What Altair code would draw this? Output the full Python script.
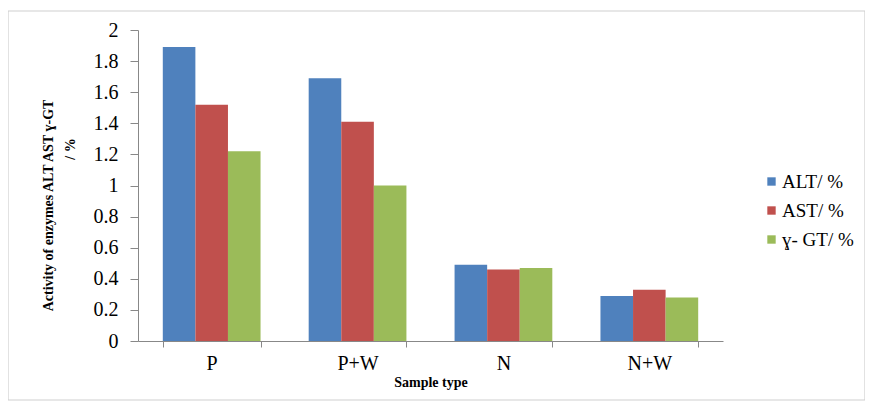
import altair as alt
import pandas as pd

categories = ["P", "P+W", "N", "N+W"]
series = ["ALT/ %", "AST/ %", "ɣ- GT/ %"]
alt_vals = [1.89, 1.69, 0.49, 0.29]
ast_vals = [1.52, 1.41, 0.46, 0.33]
ggt_vals = [1.22, 1.00, 0.47, 0.28]
colors = ["#4F81BD", "#C0504D", "#9BBB59"]
y_ticks = [0, 0.2, 0.4, 0.6, 0.8, 1, 1.2, 1.4, 1.6, 1.8, 2]

rows = []
for s, vals in zip(series, [alt_vals, ast_vals, ggt_vals]):
    for c, v in zip(categories, vals):
        rows.append({"Sample": c, "Series": s, "Value": v})
df = pd.DataFrame(rows)

SERIF = "Liberation Serif"

bars = alt.Chart(df).mark_bar().encode(
    x=alt.X("Sample:N", sort=categories,
            scale=alt.Scale(paddingInner=0.33, paddingOuter=0.17),
            axis=alt.Axis(title="Sample type", labelAngle=0, labelFont=SERIF,
                          labelFontSize=20, labelColor="black", labelPadding=6,
                          titleFont=SERIF, titleFontSize=14, titleFontWeight="bold",
                          titleColor="black", titlePadding=2,
                          tickBand="extent", tickSize=6, domainColor="#888888",
                          tickColor="#888888")),
    xOffset=alt.XOffset("Series:N", sort=series),
    y=alt.Y("Value:Q",
            scale=alt.Scale(domain=[0, 2]),
            axis=alt.Axis(values=y_ticks, labelExpr="format(datum.value, '~g')",
                          grid=False, labelFont=SERIF, labelFontSize=20,
                          labelColor="black", labelPadding=12, tickSize=8,
                          domainColor="#888888", tickColor="#888888",
                          title="Activity of enzymes ALT AST ɣ-GT",
                          titleFont=SERIF, titleFontSize=14, titleFontWeight="bold",
                          titleColor="black", titleX=-90, titleY=175,
                          titleAngle=270, titleBaseline="middle")),
    color=alt.Color("Series:N", sort=series,
                    scale=alt.Scale(domain=series, range=colors),
                    legend=alt.Legend(title=None, orient="none", legendX=624,
                                      legendY=142, labelFont=SERIF, labelFontSize=19,
                                      labelColor="black", symbolType="square",
                                      symbolSize=70, rowPadding=9, labelOffset=1,
                                      symbolStrokeWidth=0)),
)

unit = alt.Chart(pd.DataFrame({"t": ["/ %"]}))
sub = unit.mark_text(font=SERIF, fontSize=14, fontWeight="bold", angle=270,
                     color="black", baseline="middle").encode(
    text="t:N", x=alt.value(-67), y=alt.value(119))

border = unit.mark_rect(fill=None, stroke="#cfcfcf", strokeWidth=1.2).encode(
    x=alt.value(-130), x2=alt.value(727), y=alt.value(-19), y2=alt.value(370))

chart = alt.layer(border, bars, sub).properties(
    width=585, height=311,
    autosize=alt.AutoSizeParams(type="none"),
    padding={"left": 130, "top": 22, "right": 142, "bottom": 61},
).configure_view(stroke=None)

chart.save("out.html", embed_options={"renderer": "svg", "actions": False})
